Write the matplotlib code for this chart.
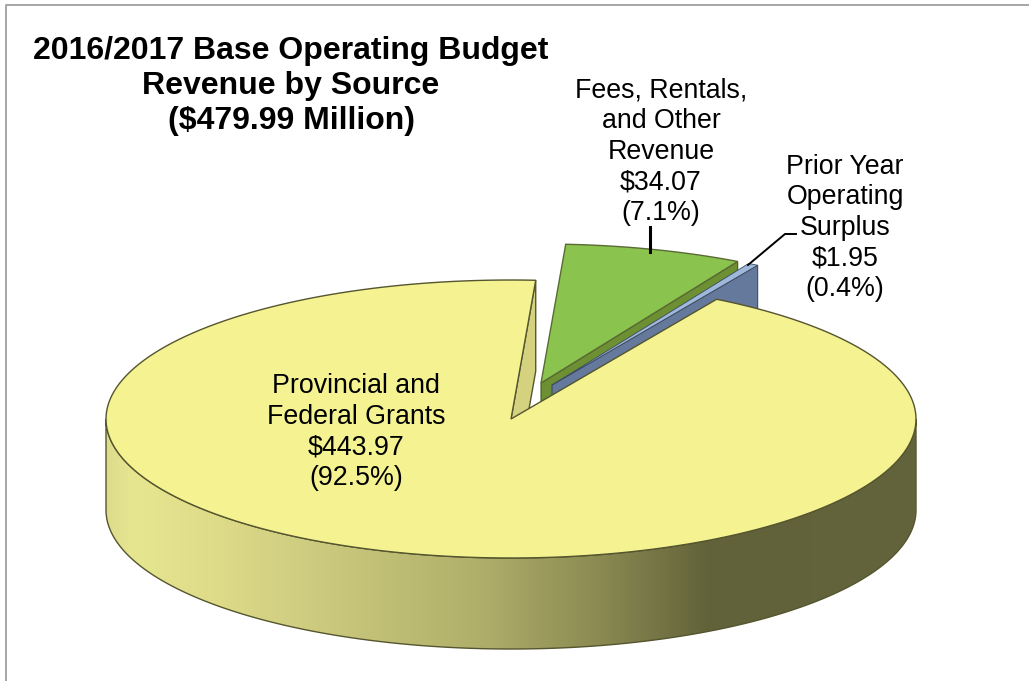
import numpy as np
import matplotlib
matplotlib.use('Agg')
import matplotlib.pyplot as plt
from matplotlib.colors import LinearSegmentedColormap
from matplotlib.patches import Polygon

plt.rcParams['font.family'] = ['Liberation Sans', 'DejaVu Sans']

labels = ['Provincial and\nFederal Grants', 'Fees, Rentals,\nand Other\nRevenue', 'Prior Year\nOperating\nSurplus']
values = [443.97, 34.07, 1.95]
percents = ['92.5%', '7.1%', '0.4%']
title = '2016/2017 Base Operating Budget\nRevenue by Source\n($479.99 Million)'

# pie geometry, all in image pixels
cx, cy = 511, 419
rx, ry = 405, 139
depth = 91
start = 86.5
offsets = [(0, 0), (30, -36), (41, -34)]

edge = '#55552f'
yellow = '#f4f291'
wall = '#d4d17f'
green = '#8bc34f'
green_side = '#6d9033'
blue = '#9fb9dc'
blue_side = '#64799b'

total = sum(values)
sweeps = [v / total * 360 for v in values]


def rim(t1, t2, off=(0, 0), drop=0, n=200):
    t = np.radians(np.linspace(t1, t2, n))
    return np.column_stack([cx + off[0] + rx * np.cos(t), cy + off[1] + drop - ry * np.sin(t)])


def top_face(t1, t2, off):
    return np.vstack([[cx + off[0], cy + off[1]], rim(t1, t2, off)])


def cut_face(t, off):
    a = np.array([cx + off[0], cy + off[1]])
    b = rim(t, t, off, n=1)[0]
    return [a, b, b + [0, depth], a + [0, depth]]


fig = plt.figure(figsize=(10.29, 6.81), dpi=100)
ax = fig.add_axes([0, 0, 1, 1])
ax.set_xlim(0, 1029)
ax.set_ylim(681, 0)
ax.axis('off')

# frame of the slide
ax.plot([6, 6, 1029], [681, 5, 5], color='#a6a6a6', lw=1.4)

y_end = start + sweeps[0]
g_start = start - sweeps[1]
b_start = g_start - sweeps[2]

# green slice
ax.add_patch(Polygon(cut_face(g_start, offsets[1]), fc=green_side, ec='#3f5a1e', lw=0.8, zorder=2))
ax.add_patch(Polygon(top_face(g_start, start, offsets[1]), fc=green, ec='#5a6b34', lw=1, zorder=3))

# blue slice
ax.add_patch(Polygon(cut_face(b_start, offsets[2]), fc=blue_side, ec='#3d4a60', lw=0.8, zorder=4))
ax.add_patch(Polygon(top_face(b_start, g_start, offsets[2]), fc=blue, ec='#3d4a60', lw=0.6, zorder=5))

# yellow slice: inner wall, round wall with gradient, then top
ax.add_patch(Polygon(cut_face(start, offsets[0]), fc=wall, ec=edge, lw=1, zorder=6))

outer = np.vstack([rim(180, 360), rim(360, 180, drop=depth)])
ramp_x = [0, 0.03, 0.12, 0.24, 0.46, 0.61, 0.745, 1]
ramp_c = ['#dcdc8c', '#e6e690', '#e0dd8a', '#cfcd80', '#b0af6a', '#8a8a52', '#62623a', '#64643c']
cmap = LinearSegmentedColormap.from_list('side', list(zip(ramp_x, ramp_c)))
im = ax.imshow(np.linspace(0, 1, 256)[None, :], cmap=cmap, aspect='auto',
               extent=(cx - rx, cx + rx, cy + ry + depth, cy), zorder=7)
poly = Polygon(outer, fc='none', ec=edge, lw=1, zorder=8)
ax.add_patch(poly)
im.set_clip_path(poly)
ax.set_xlim(0, 1029)
ax.set_ylim(681, 0)

ax.add_patch(Polygon(top_face(start, y_end, offsets[0]), fc=yellow, ec=edge, lw=1, zorder=9))

# leader lines
ax.plot([650, 650], [227, 252], color='black', lw=2.2, zorder=10)
ax.plot([748, 785, 796], [265, 234, 234], color='black', lw=1.4, zorder=10)

# text
ax.text(291, 86, title, ha='center', va='center', fontsize=23, fontweight='bold', linespacing=1.22, zorder=11)
fs = 19.3
ls = 1.23
ax.text(356, 432, f'{labels[0]}\n${values[0]:.2f}\n({percents[0]})', ha='center', va='center',
        fontsize=fs, linespacing=ls, zorder=11)
ax.text(661, 152, f'{labels[1]}\n${values[1]:.2f}\n({percents[1]})', ha='center', va='center',
        fontsize=fs, linespacing=ls, zorder=11)
ax.text(845, 228, f'{labels[2]}\n${values[2]:.2f}\n({percents[2]})', ha='center', va='center',
        fontsize=fs, linespacing=ls, zorder=11)

fig.savefig('out.png', dpi=100)
